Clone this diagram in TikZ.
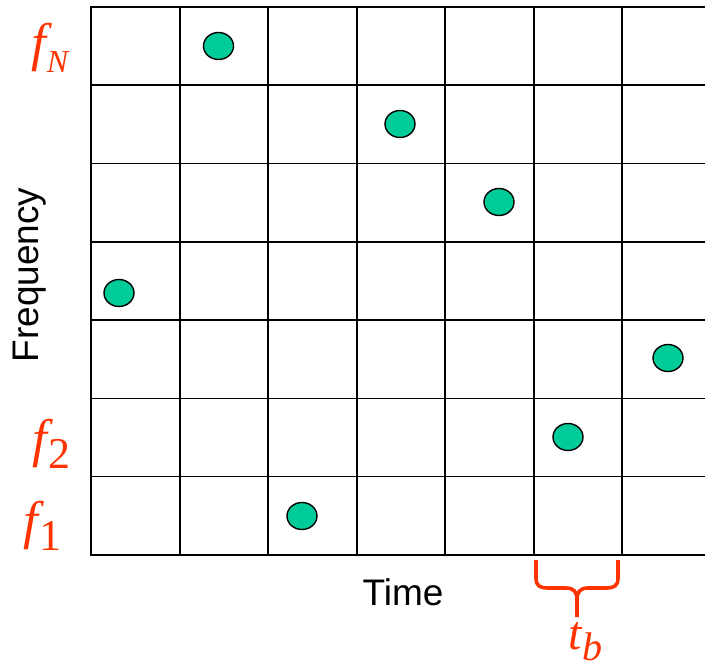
\documentclass[tikz,border=0pt]{standalone}
\usepackage{fontspec}
\setmainfont{Liberation Sans}
\newfontfamily\tnr{Liberation Serif}
\usetikzlibrary{shapes.geometric}
\definecolor{dotgreen}{HTML}{00CC99}
\definecolor{lblred}{HTML}{FF3300}
\newcommand{\bigf}{{\tnr\itshape\fontsize{53}{53}\selectfont f}}
\newcommand{\subN}[1]{\raisebox{-12pt}{\tnr\itshape\fontsize{32}{32}\selectfont #1}}
\newcommand{\subD}[1]{\raisebox{-12pt}{\tnr\fontsize{44}{44}\selectfont #1}}
\begin{document}
\begin{tikzpicture}[x=1pt,y=-1pt,
  gridline/.style={line width=1.6pt,black},
  frameline/.style={line width=2.4pt,black},
  hopdot/.style={ellipse,draw=black,line width=1.4pt,fill=dotgreen,minimum width=30pt,minimum height=27pt,inner sep=0pt},
  freqlbl/.style={text=lblred,anchor=base west,inner sep=0pt},
  axislbl/.style={font=\fontsize{37}{37}\selectfont,inner sep=0pt}]
\useasboundingbox (0,0) rectangle (705,668);
\begin{scope}
\clip (0,0) rectangle (705,668);
% horizontal lines
\foreach \y in {85.3,163.6,241.9,320.1,398.4,476.7}
  \draw[gridline] (91,\y) -- (710,\y);
\draw[frameline] (91,7) -- (710,7);
\draw[frameline] (91,555) -- (710,555);
% vertical lines
\foreach \x in {180,268,357,445,534,622}
  \draw[gridline] (\x,7) -- (\x,555);
\draw[frameline] (91,5.8) -- (91,556.2);
\end{scope}
% dots
\node[hopdot] (d1) at (218.5,46) {};
\node[hopdot] (d2) at (400,124) {};
\node[hopdot] (d3) at (499,202) {};
\node[hopdot] (d4) at (119,293) {};
\node[hopdot] (d5) at (668,358) {};
\node[hopdot] (d6) at (568,437) {};
\node[hopdot] (d7) at (302,516) {};
% frequency labels
\node[freqlbl] (fN) at (31,61) {\bigf\hspace{1pt}\subN{N}};
\node[freqlbl] (f2) at (32,457) {\bigf\hspace{2pt}\subD{2}};
\node[freqlbl] (f1) at (23,539) {\bigf\hspace{2pt}\subD{1}};
% axis labels
\node[axislbl] (time) at (403,592) {Time};
\node[axislbl,rotate=90] (freq) at (30,275) {Frequency};
% brace
\coordinate (bl) at (536,560);
\coordinate (br) at (618,560);
\draw[lblred,line width=3.6pt,line cap=butt]
  (bl) -- (536,578) .. controls (536,586) and (540,588) .. (548,588)
  -- (566,588) .. controls (574,588) and (577,592) .. (577,600) -- (577,617);
\draw[lblred,line width=3.6pt,line cap=butt]
  (br) -- (618,578) .. controls (618,586) and (614,588) .. (606,588)
  -- (588,588) .. controls (580,588) and (577,592) .. (577,600);
% t_b
\node[freqlbl] (tb) at (568,649) {{\tnr\itshape\fontsize{48}{48}\selectfont t}\hspace{1pt}\raisebox{-11pt}{\tnr\itshape\fontsize{40}{40}\selectfont b}};
\end{tikzpicture}
\end{document}
